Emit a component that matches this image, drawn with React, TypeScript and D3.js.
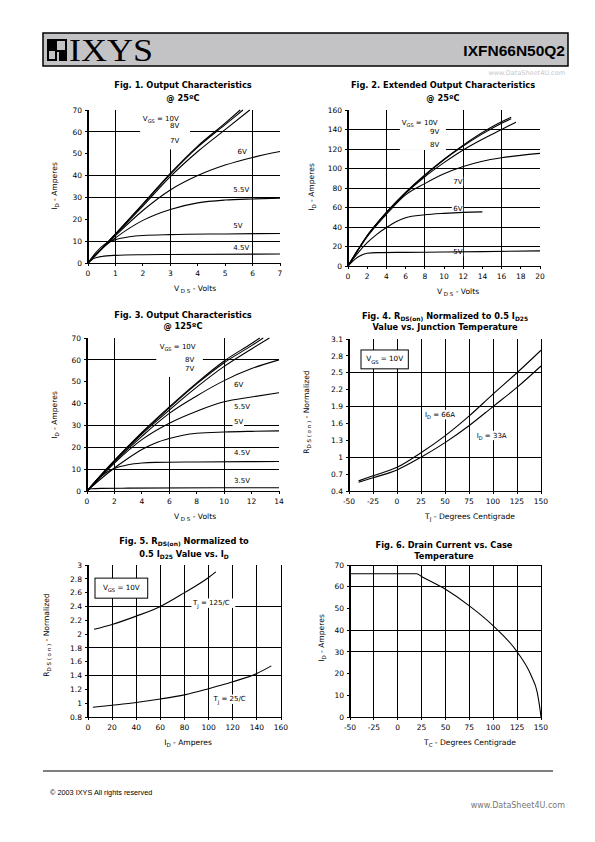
import React from "react";
import * as d3 from "d3";

type Pt = [number, number];
type Part = { t: string; sub?: boolean; sup?: boolean };

// ---------------- Fig. 1 : Output characteristics @ 25C ----------------
const f1XTicks = [0, 1, 2, 3, 4, 5, 6, 7];
const f1YTicks = [0, 10, 20, 30, 40, 50, 60, 70];
const f1GridX = [1, 3, 6];
const f1GridY = [10, 30, 40, 60];
const f1Vgs10: Pt[] = [[0, 0], [1, 13.3], [2, 27], [3, 41], [4, 53.5], [5, 64], [5.55, 70]];
const f1Vgs8: Pt[] = [[0, 0], [1, 13.2], [2, 26.8], [3, 40.6], [4, 53], [5, 63.3], [5.65, 70]];
const f1Vgs7: Pt[] = [[0, 0], [1, 13], [2, 26], [3, 39.5], [4, 51], [5, 61], [5.9, 70]];
const f1Vgs6: Pt[] = [[0, 0], [1, 12.5], [2, 24], [3, 33.4], [4, 40], [5, 44.8], [6, 48.3], [7, 51]];
const f1Vgs55: Pt[] = [[0, 0], [0.5, 6.5], [1, 11.5], [2, 19.5], [3, 24.5], [4, 27.5], [5, 28.8], [6, 29.3], [7, 29.6]];
const f1Vgs5: Pt[] = [[0, 0], [0.3, 5], [0.6, 8.5], [1, 10.7], [1.5, 12], [2, 12.6], [3, 13], [5, 13.3], [7, 13.5]];
const f1Vgs45: Pt[] = [[0, 0], [0.2, 2], [0.5, 3], [1, 3.5], [2, 3.8], [3, 3.9], [7, 4.1]];

// ---------------- Fig. 2 : Extended output characteristics @ 25C ----------------
const f2XTicks = [0, 2, 4, 6, 8, 10, 12, 14, 16, 18, 20];
const f2YTicks = [0, 20, 40, 60, 80, 100, 120, 140, 160];
const f2GridX = [4, 8, 12, 16];
const f2GridY = [20, 40, 60, 80, 100, 120, 140];
const f2Vgs10: Pt[] = [[0, 0], [1, 16], [2, 31], [3, 43.5], [4, 55], [6, 75.5], [8, 93.3], [10, 109.5], [12, 124], [14, 137], [16, 148], [17, 152.5]];
const f2Vgs9: Pt[] = [[0, 0], [1, 16], [2, 31], [3, 43.5], [4, 55], [6, 75.3], [8, 93], [10, 109], [12, 123], [14, 135.5], [16, 146.5], [17, 151]];
const f2Vgs8: Pt[] = [[0, 0], [1, 16], [2, 31], [4, 54.5], [6, 74.5], [8, 91.5], [10, 106], [12, 119], [14, 130], [16, 140], [17.5, 147.5]];
const f2Vgs7: Pt[] = [[0, 0], [1, 15.5], [2, 30], [4, 53], [6, 73], [8, 84.5], [10, 94.5], [12, 102], [14, 107.5], [16, 111], [18, 113.5], [20, 115.5]];
const f2Vgs6: Pt[] = [[0, 0], [1, 13], [2, 24], [3, 32.5], [4, 39.5], [5, 45.5], [6, 49.5], [8, 52.5], [10, 54], [12, 55], [14, 55.5]];
const f2Vgs5: Pt[] = [[0, 0], [0.5, 5], [1, 9], [1.5, 11.5], [2, 13], [3, 13.7], [6, 14], [10, 14.3], [14, 14.7], [20, 15.5]];

// ---------------- Fig. 3 : Output characteristics @ 125C ----------------
const f3XTicks = [0, 2, 4, 6, 8, 10, 12, 14];
const f3YTicks = [0, 10, 20, 30, 40, 50, 60, 70];
const f3GridX = [2, 6, 10];
const f3GridY = [10, 20, 30, 60];
const f3Vgs10: Pt[] = [[0, 0], [1, 7.2], [2, 14], [4, 26.8], [6, 38.5], [8, 49.5], [10, 59.5], [12, 67.5], [12.6, 70]];
const f3Vgs8: Pt[] = [[0, 0], [1, 7.1], [2, 13.9], [4, 26.5], [6, 38], [8, 49], [10, 58.7], [12, 66.5], [12.85, 70]];
const f3Vgs7: Pt[] = [[0, 0], [1, 7], [2, 13.6], [4, 26], [6, 37], [8, 47.5], [10, 57], [12, 65], [13.3, 70]];
const f3Vgs6: Pt[] = [[0, 0], [2, 13.3], [4, 25], [6, 35.5], [8, 43.5], [10, 50.5], [12, 56], [14, 60]];
const f3Vgs55: Pt[] = [[0, 0], [2, 12.8], [4, 23.5], [6, 31], [8, 36.5], [10, 40.8], [12, 43], [14, 45]];
const f3Vgs5: Pt[] = [[0, 0], [1, 5.5], [2, 10.5], [3, 15], [4, 19], [5, 22], [6, 24], [7, 25.5], [8, 26.4], [10, 27], [12, 27.3], [14, 27.5]];
const f3Vgs45: Pt[] = [[0, 0], [0.5, 3.5], [1, 6.5], [1.5, 8.8], [2, 10.3], [3, 12], [4, 12.8], [5, 13.1], [8, 13.3], [14, 13.5]];
const f3Vgs35: Pt[] = [[0, 0], [0.3, 1], [1, 1.2], [3, 1.3], [14, 1.5]];

// ---------------- Fig. 4 : RDS(on) vs junction temperature ----------------
const f4XTicks = [-50, -25, 0, 25, 50, 75, 100, 125, 150];
const f4YTicks = [0.4, 0.7, 1, 1.3, 1.6, 1.9, 2.2, 2.5, 2.8, 3.1];
const f4GridX = [-25, 0, 25, 50, 75, 100, 125, 150];
const f4GridY = [1, 1.9, 2.5];
const f4Id66: Pt[] = [[-40, 0.58], [-25, 0.67], [0, 0.82], [25, 1.08], [50, 1.38], [75, 1.73], [100, 2.12], [125, 2.5], [150, 2.9]];
const f4Id33: Pt[] = [[-40, 0.555], [-25, 0.635], [0, 0.775], [25, 1.0], [50, 1.26], [75, 1.56], [100, 1.9], [125, 2.24], [150, 2.62]];

// ---------------- Fig. 5 : RDS(on) vs ID ----------------
const f5XTicks = [0, 20, 40, 60, 80, 100, 120, 140, 160];
const f5YTicks = [0.8, 1, 1.2, 1.4, 1.6, 1.8, 2, 2.2, 2.4, 2.6, 2.8, 3];
const f5GridX = [20, 40, 60, 80, 100, 120, 140, 160];
const f5GridY = [1.4, 1.8, 2.4];
const f5Tj125: Pt[] = [[5, 2.07], [20, 2.14], [40, 2.26], [60, 2.4], [80, 2.6], [100, 2.82], [106, 2.9]];
const f5Tj25: Pt[] = [[4, 0.94], [20, 0.97], [40, 1.01], [60, 1.06], [80, 1.12], [100, 1.21], [120, 1.31], [140, 1.43], [152, 1.54]];

// ---------------- Fig. 6 : Drain current vs case temperature ----------------
const f6XTicks = [-50, -25, 0, 25, 50, 75, 100, 125, 150];
const f6YTicks = [0, 10, 20, 30, 40, 50, 60, 70];
const f6GridX = [-25, 0, 25, 50, 75, 100, 125, 150];
const f6GridY = [30, 40, 60, 70];
const f6Id: Pt[] = [[-50, 66], [20, 66], [25, 64.7], [50, 58.8], [75, 51.2], [100, 42], [125, 30], [140, 18.8], [146, 11.5], [148.5, 5], [150, 0]];

const FONT = "'DejaVu Sans', Verdana, sans-serif";

interface Label { x: number; y: number; parts: Part[] }
interface Box { x0: number; x1: number; y0: number; y1: number; parts: Part[] }
interface ChartCfg {
  id: string;
  px0: number; px1: number; py0: number; py1: number;
  xDom: [number, number]; yDom: [number, number];
  xTicks: number[]; yTicks: number[];
  gridX: number[]; gridY: number[];
  series: Pt[][];
  title: Part[][]; titleX: number; titleY: number[];
  xTitle: Part[]; xTitleX: number;
  yTitle: Part[]; yTitleX: number; yTitleY: number;
  labels: Label[];
  blanks?: [number, number, number, number][];
  box?: Box;
}

function spans(parts: Part[], fs: number) {
  let shift = 0;
  return parts.map((p, i) => {
    const target = p.sub ? fs * 0.3 : p.sup ? -fs * 0.35 : 0;
    const dy = target - shift;
    shift = target;
    return (
      <tspan key={i} dy={dy} fontSize={p.sub || p.sup ? fs * 0.72 : fs}>
        {p.t}
      </tspan>
    );
  });
}

function estWidth(parts: Part[], fs: number) {
  return parts.reduce((s, p) => s + p.t.length * fs * (p.sub ? 0.72 : 1) * 0.6, 0);
}

function Chart({ cfg }: { cfg: ChartCfg }) {
  const { px0, px1, py0, py1 } = cfg;
  const xs = d3.scaleLinear().domain(cfg.xDom).range([px0, px1]);
  const ys = d3.scaleLinear().domain(cfg.yDom).range([py1, py0]);
  const line = d3
    .line<Pt>()
    .x((d) => xs(d[0]))
    .y((d) => ys(d[1]))
    .curve(d3.curveMonotoneX);
  const clipId = "clip-" + cfg.id;
  const labFs = 7;
  const tickFs = 7.5;
  const titleFs = 8.25;
  const axFs = 7.6;
  const fmt = (v: number) => String(+v.toFixed(2));
  return (
    <g>
      <defs>
        <clipPath id={clipId}>
          <rect x={px0} y={py0 - 1} width={px1 - px0 + 1} height={py1 - py0 + 2} />
        </clipPath>
      </defs>
      {/* gridlines */}
      <g stroke="#000" strokeWidth={1} shapeRendering="crispEdges">
        {cfg.gridX.map((v) => (
          <line key={"gx" + v} x1={xs(v)} x2={xs(v)} y1={py0} y2={py1} />
        ))}
        {cfg.gridY.map((v) => (
          <line key={"gy" + v} x1={px0} x2={px1} y1={ys(v)} y2={ys(v)} />
        ))}
      </g>
      {/* white label backgrounds */}
      {(cfg.blanks || []).map((b, i) => (
        <rect key={"b" + i} x={xs(b[0])} y={ys(b[3])} width={xs(b[1]) - xs(b[0])} height={ys(b[2]) - ys(b[3])} fill="#fff" />
      ))}
      {cfg.labels.map((l, i) => (
        <rect
          key={"lb" + i}
          x={xs(l.x) - 1.5}
          y={ys(l.y) - labFs * 0.65}
          width={estWidth(l.parts, labFs) + 3}
          height={labFs * 1.35}
          fill="#fff"
        />
      ))}
      {/* curves */}
      <g clipPath={`url(#${clipId})`} fill="none" stroke="#000" strokeWidth={1.1}>
        {cfg.series.map((s, i) => (
          <path key={"s" + i} d={line(s) || ""} />
        ))}
      </g>
      {/* axes */}
      <line x1={px0} x2={px0} y1={py0} y2={py1 + 0.5} stroke="#000" strokeWidth={2} />
      <line x1={px0} x2={px1} y1={py1} y2={py1} stroke="#000" strokeWidth={1} shapeRendering="crispEdges" />
      <g stroke="#000" strokeWidth={1} shapeRendering="crispEdges">
        {cfg.yTicks.map((v) => (
          <line key={"yt" + v} x1={px0 - 3} x2={px0} y1={ys(v)} y2={ys(v)} />
        ))}
        {cfg.xTicks.map((v) => (
          <line key={"xt" + v} x1={xs(v)} x2={xs(v)} y1={py1} y2={py1 + 3} />
        ))}
      </g>
      <g fontFamily={FONT} fontSize={tickFs} fill="#000">
        {cfg.yTicks.map((v) => (
          <text key={"yl" + v} x={px0 - 6} y={ys(v) + tickFs * 0.36} textAnchor="end">
            {fmt(v)}
          </text>
        ))}
        {cfg.xTicks.map((v) => (
          <text key={"xl" + v} x={xs(v)} y={py1 + 13} textAnchor="middle">
            {fmt(v)}
          </text>
        ))}
      </g>
      {/* curve labels */}
      <g fontFamily={FONT} fontSize={labFs} fill="#000">
        {cfg.labels.map((l, i) => (
          <text key={"l" + i} x={xs(l.x)} y={ys(l.y) + labFs * 0.35}>
            {spans(l.parts, labFs)}
          </text>
        ))}
      </g>
      {cfg.box && (
        <g>
          <rect
            x={xs(cfg.box.x0)}
            y={ys(cfg.box.y1)}
            width={xs(cfg.box.x1) - xs(cfg.box.x0)}
            height={ys(cfg.box.y0) - ys(cfg.box.y1)}
            fill="#fff"
            stroke="#000"
            strokeWidth={1}
          />
          <text
            x={(xs(cfg.box.x0) + xs(cfg.box.x1)) / 2}
            y={(ys(cfg.box.y0) + ys(cfg.box.y1)) / 2 + 2}
            textAnchor="middle"
            fontFamily={FONT}
            fontSize={7.2}
          >
            {spans(cfg.box.parts, 7.2)}
          </text>
        </g>
      )}
      {/* titles */}
      <g fontFamily={FONT} fontWeight="bold" fontSize={titleFs} fill="#000">
        {cfg.title.map((parts, i) => (
          <text key={"t" + i} x={cfg.titleX} y={cfg.titleY[i]} textAnchor="middle">
            {spans(parts, titleFs)}
          </text>
        ))}
      </g>
      <text x={cfg.xTitleX} y={py1 + 28} textAnchor="middle" fontFamily={FONT} fontSize={axFs}>
        {spans(cfg.xTitle, axFs)}
      </text>
      <text
        transform={`translate(${cfg.yTitleX},${cfg.yTitleY}) rotate(-90)`}
        textAnchor="middle"
        fontFamily={FONT}
        fontSize={axFs}
      >
        {spans(cfg.yTitle, axFs)}
      </text>
    </g>
  );
}

const vgs = (v: string): Part[] => [{ t: "V" }, { t: "GS", sub: true }, { t: " = " + v }];
const plain = (t: string): Part[] => [{ t }];
const idAmps: Part[] = [{ t: "I" }, { t: "D", sub: true }, { t: " - Amperes" }];
const vdsVolts: Part[] = [{ t: "V" }, { t: " D S", sub: true }, { t: " - Volts" }];
const rdsNorm: Part[] = [{ t: "R" }, { t: "D S ( o n )", sub: true }, { t: " - Normalized" }];

const charts: ChartCfg[] = [
  {
    id: "f1", px0: 88, px1: 280, py0: 110, py1: 263,
    xDom: [0, 7], yDom: [0, 70], xTicks: f1XTicks, yTicks: f1YTicks,
    gridX: f1GridX, gridY: f1GridY,
    series: [f1Vgs10, f1Vgs8, f1Vgs7, f1Vgs6, f1Vgs55, f1Vgs5, f1Vgs45],
    title: [plain("Fig. 1. Output Characteristics"), plain("@ 25ºC")], titleX: 183, titleY: [88, 101],
    xTitle: vdsVolts, xTitleX: 195,
    yTitle: idAmps, yTitleX: 57, yTitleY: 186,
    blanks: [[1.9, 3.72, 52, 70]],
    labels: [
      { x: 2.0, y: 66.2, parts: vgs("10V") },
      { x: 2.99, y: 62.8, parts: plain("8V") },
      { x: 2.99, y: 55.8, parts: plain("7V") },
      { x: 5.45, y: 50.9, parts: plain("6V") },
      { x: 5.3, y: 33.7, parts: plain("5.5V") },
      { x: 5.3, y: 17, parts: plain("5V") },
      { x: 5.3, y: 7, parts: plain("4.5V") },
    ],
  },
  {
    id: "f2", px0: 348, px1: 540, py0: 110, py1: 266,
    xDom: [0, 20], yDom: [0, 160], xTicks: f2XTicks, yTicks: f2YTicks,
    gridX: f2GridX, gridY: f2GridY,
    series: [f2Vgs10, f2Vgs9, f2Vgs8, f2Vgs7, f2Vgs6, f2Vgs5],
    title: [plain("Fig. 2. Extended Output Characteristics"), plain("@ 25ºC")], titleX: 443, titleY: [88, 101],
    xTitle: vdsVolts, xTitleX: 458,
    yTitle: idAmps, yTitleX: 314, yTitleY: 187,
    blanks: [[5.4, 10.2, 119, 160]],
    labels: [
      { x: 5.6, y: 147, parts: vgs("10V") },
      { x: 8.54, y: 138, parts: plain("9V") },
      { x: 8.54, y: 125, parts: plain("8V") },
      { x: 10.97, y: 87, parts: plain("7V") },
      { x: 10.97, y: 58.5, parts: plain("6V") },
      { x: 10.97, y: 14.7, parts: plain("5V") },
    ],
  },
  {
    id: "f3", px0: 87, px1: 279, py0: 338, py1: 491,
    xDom: [0, 14], yDom: [0, 70], xTicks: f3XTicks, yTicks: f3YTicks,
    gridX: f3GridX, gridY: f3GridY,
    series: [f3Vgs10, f3Vgs8, f3Vgs7, f3Vgs6, f3Vgs55, f3Vgs5, f3Vgs45, f3Vgs35],
    title: [plain("Fig. 3. Output Characteristics"), plain("@ 125ºC")], titleX: 183, titleY: [318, 329],
    xTitle: vdsVolts, xTitleX: 195,
    yTitle: idAmps, yTitleX: 57, yTitleY: 415,
    blanks: [[5.05, 8.45, 52.2, 70]],
    labels: [
      { x: 5.3, y: 66, parts: vgs("10V") },
      { x: 7.15, y: 60, parts: plain("8V") },
      { x: 7.15, y: 55.8, parts: plain("7V") },
      { x: 10.72, y: 48.5, parts: plain("6V") },
      { x: 10.72, y: 38.6, parts: plain("5.5V") },
      { x: 10.72, y: 31.7, parts: plain("5V") },
      { x: 10.72, y: 17.4, parts: plain("4.5V") },
      { x: 10.72, y: 5, parts: plain("3.5V") },
    ],
  },
  {
    id: "f4", px0: 349, px1: 541, py0: 339, py1: 491,
    xDom: [-50, 150], yDom: [0.4, 3.1], xTicks: f4XTicks, yTicks: f4YTicks,
    gridX: f4GridX, gridY: f4GridY,
    series: [f4Id66, f4Id33],
    title: [
      [{ t: "Fig. 4. R" }, { t: "DS(on)", sub: true }, { t: " Normalized to 0.5 I" }, { t: "D25", sub: true }],
      plain("Value vs. Junction Temperature"),
    ],
    titleX: 445, titleY: [319, 330],
    xTitle: [{ t: "T" }, { t: "J", sub: true }, { t: " - Degrees Centigrade" }], xTitleX: 470,
    yTitle: rdsNorm, yTitleX: 309, yTitleY: 412,
    labels: [
      { x: 29.2, y: 1.76, parts: [{ t: "I" }, { t: "D", sub: true }, { t: " = 66A" }] },
      { x: 83, y: 1.39, parts: [{ t: "I" }, { t: "D", sub: true }, { t: " = 33A" }] },
    ],
    box: { x0: -37.5, x1: 11.8, y0: 2.57, y1: 2.905, parts: vgs("10V") },
  },
  {
    id: "f5", px0: 88, px1: 281, py0: 565, py1: 717,
    xDom: [0, 160], yDom: [0.8, 3], xTicks: f5XTicks, yTicks: f5YTicks,
    gridX: f5GridX, gridY: f5GridY,
    series: [f5Tj125, f5Tj25],
    title: [
      [{ t: "Fig. 5. R" }, { t: "DS(on)", sub: true }, { t: " Normalized to" }],
      [{ t: "0.5 I" }, { t: "D25", sub: true }, { t: " Value vs. I" }, { t: "D", sub: true }],
    ],
    titleX: 184, titleY: [544, 557],
    xTitle: idAmps, xTitleX: 188,
    yTitle: rdsNorm, yTitleX: 49, yTitleY: 635,
    labels: [
      { x: 87, y: 2.45, parts: [{ t: "T" }, { t: "J", sub: true }, { t: " = 125/C" }] },
      { x: 104, y: 1.06, parts: [{ t: "T" }, { t: "J", sub: true }, { t: " = 25/C" }] },
    ],
    box: { x0: 5.8, x1: 49.5, y0: 2.52, y1: 2.81, parts: vgs("10V") },
  },
  {
    id: "f6", px0: 350, px1: 541, py0: 565, py1: 717,
    xDom: [-50, 150], yDom: [0, 70], xTicks: f6XTicks, yTicks: f6YTicks,
    gridX: f6GridX, gridY: f6GridY,
    series: [f6Id],
    title: [plain("Fig. 6. Drain Current vs. Case"), plain("Temperature")],
    titleX: 444, titleY: [548, 559],
    xTitle: [{ t: "T" }, { t: "C", sub: true }, { t: " - Degrees Centigrade" }], xTitleX: 470,
    yTitle: idAmps, yTitleX: 324, yTitleY: 638,
    labels: [],
  },
];

export default function App() {
  return (
    <svg
      width={595}
      height={842}
      viewBox="0 0 595 842"
      style={{ position: "absolute", left: 0, top: 0, background: "#fff" }}
    >
      <rect x={0} y={0} width={595} height={842} fill="#fff" />
      {/* header */}
      <rect x={43} y={33} width={525} height={33} fill="#c3c3c6" stroke="#000" strokeWidth={1.5} />
      <g>
        <rect x={47} y={39} width={20} height={22} fill="#000" />
        <rect x={57} y={41} width={8} height={9} fill="#c3c3c6" />
        <rect x={49} y={51} width={6} height={8} fill="#c3c3c6" />
        <rect x={57} y={52} width={2} height={9} fill="#c3c3c6" />
      </g>
      <text x={69} y={61} fontFamily="'Liberation Serif', 'DejaVu Serif', serif" fontSize={31} textLength={84} lengthAdjust="spacingAndGlyphs">
        IXYS
      </text>
      <text x={565} y={56} textAnchor="end" fontFamily="'Liberation Sans', Arial, sans-serif" fontWeight="bold" fontSize={15.5}>
        IXFN66N50Q2
      </text>
      <text x={565} y={75} textAnchor="end" fontFamily={FONT} fontSize={6.5} fill="#c8c8c8">
        www.DataSheet4U.com
      </text>
      {charts.map((c) => (
        <Chart key={c.id} cfg={c} />
      ))}
      {/* footer */}
      <line x1={43} x2={553} y1={771} y2={771} stroke="#000" strokeWidth={1} />
      <text x={50} y={795} fontFamily="'Liberation Sans', Arial, sans-serif" fontSize={7.3}>
        © 2003 IXYS All rights reserved
      </text>
      <text x={565} y={808} textAnchor="end" fontFamily={FONT} fontSize={8} fill="#777">
        www.DataSheet4U.com
      </text>
    </svg>
  );
}
